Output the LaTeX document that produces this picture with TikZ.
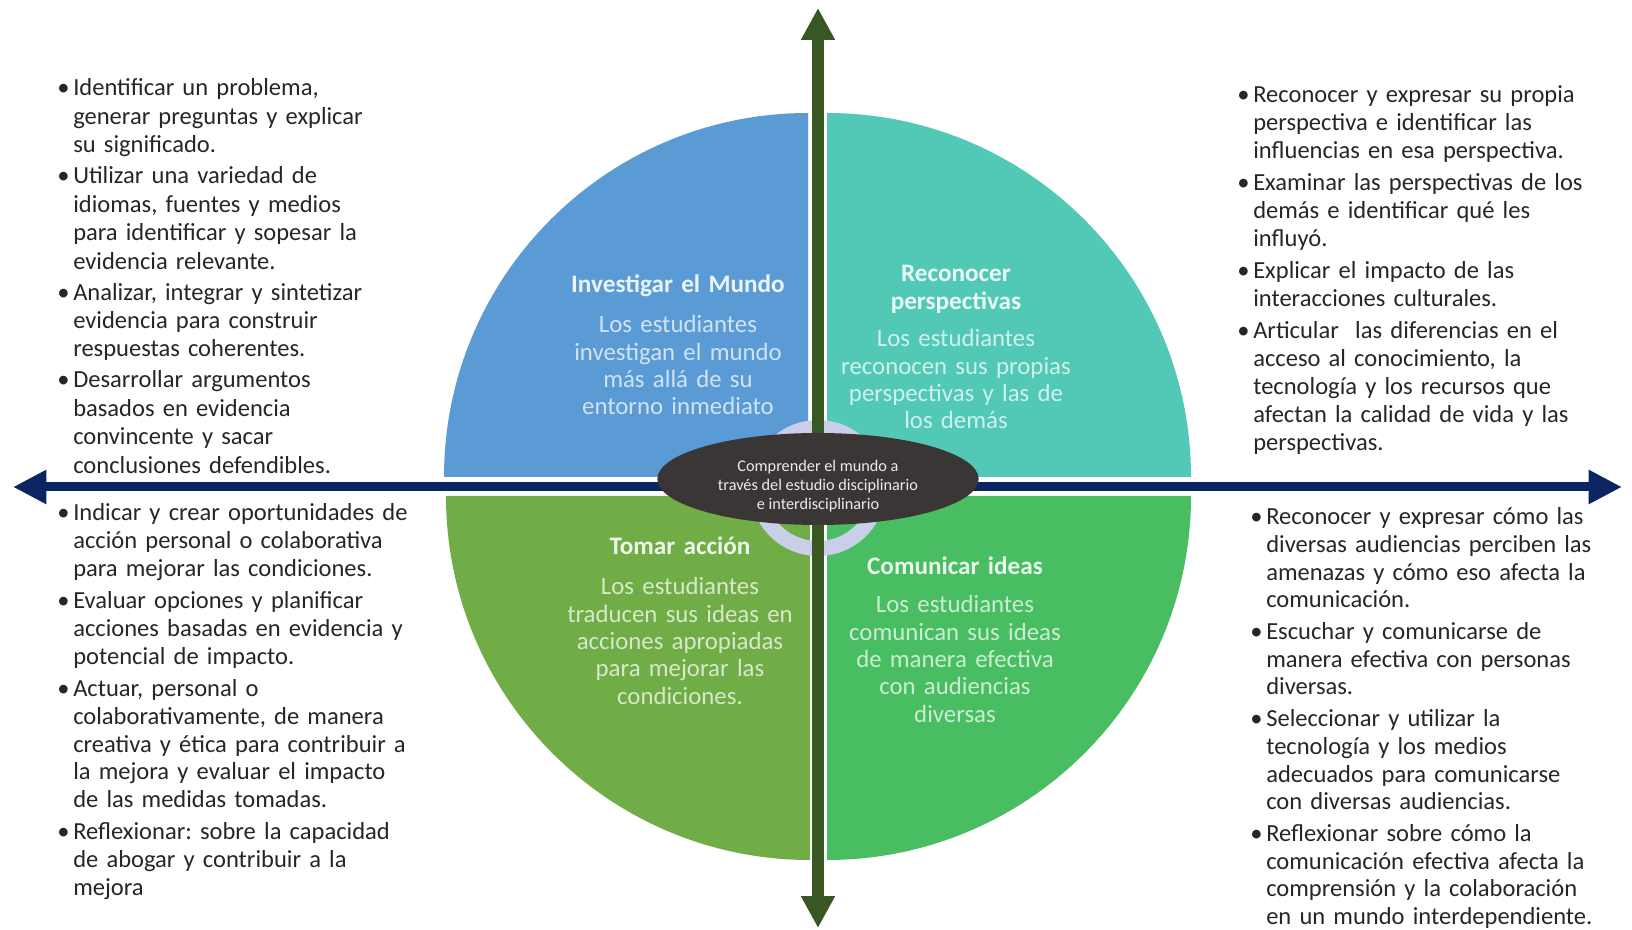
\documentclass[tikz,border=0pt]{standalone}
\usepackage{fontspec}
\setmainfont{Carlito}
\usetikzlibrary{arrows.meta,shapes.geometric}
\frenchspacing

\definecolor{qblue}{HTML}{5B9BD5}
\definecolor{qteal}{HTML}{52C9B6}
\definecolor{qgreen}{HTML}{70AD47}
\definecolor{qleaf}{HTML}{48BD62}
\definecolor{vaxis}{HTML}{385723}
\definecolor{haxis}{HTML}{0B2563}
\definecolor{hubfill}{HTML}{3B3636}
\definecolor{ringc}{HTML}{C9CFE8}

\newcommand{\bul}{\leavevmode\llap{\makebox[12pt][l]{\textbullet}}}

\begin{document}
\begin{tikzpicture}[x=0.75pt,y=0.75pt,
    blocktext/.style={anchor=base west, inner sep=0pt, text width=300pt, align=left,
      text=black!85, font=\fontsize{18.4}{#1}\selectfont},
    qtitle/.style={anchor=base, inner sep=0pt, text width=250pt, align=center,
      font=\fontsize{18.9}{21}\selectfont\bfseries},
    qbody/.style={anchor=base, inner sep=0pt, text width=200pt, align=center,
      font=\fontsize{18.6}{20.5}\selectfont},
    hub/.style={ellipse, fill=hubfill, inner sep=0pt, minimum width=241pt, minimum height=69pt},
    hubtext/.style={inner sep=0pt, align=center, text=white!92!black,
      font=\fontsize{12.2}{14.3}\selectfont},
    axisv/.style={draw=vaxis, line width=9pt,
      {Triangle[length=24pt,width=24pt]}-{Triangle[length=24pt,width=24pt]}},
    axish/.style={draw=haxis, line width=6.75pt,
      {Triangle[length=25pt,width=24pt]}-{Triangle[length=25pt,width=24pt]}}
  ]
\useasboundingbox (0,0) rectangle (1632,929);
\fill[white] (0,0) rectangle (1632,929);

% quadrants
\fill[qblue] (808,452) -- ++(-364,0) arc[start angle=180, end angle=90, radius=364] -- cycle;
\fill[qteal] (827,452) -- ++(0,364) arc[start angle=90, end angle=0, radius=364] -- cycle;
\fill[qgreen] (810,433) -- ++(-364,0) arc[start angle=180, end angle=270, radius=364] -- cycle;
\fill[qleaf] (827,433) -- ++(364,0) arc[start angle=0, end angle=-90, radius=364] -- cycle;

\fill[ringc, even odd rule] (818,441) circle[radius=68] circle[radius=53];

% axes
\coordinate (top) at (818,921);
\coordinate (bot) at (818,1);
\coordinate (lft) at (13,442);
\coordinate (rgt) at (1622,442);
\draw[axisv] (bot) -- (top);
\draw[axish] (lft) -- (rgt);

\node[hub] (hub) at (818,450) {};
\node[hubtext] (hubtxt) at (818,443) {Comprender el mundo a\\través del estudio disciplinario\\e interdisciplinario};

% quadrant labels
\node[qtitle, text=white!88!qblue] (invT) at (678,636) {Investigar el Mundo};
\node[qbody, text=white!72!qblue] (invB) at (678,596) {Los estudiantes\\investigan el mundo\\más allá de su\\entorno inmediato};

\node[qtitle, text=white!88!qteal] (recT) at (956,647) {Reconocer\\perspectivas};
\node[qbody, text=white!72!qteal] (recB) at (956,582) {Los estudiantes\\reconocen sus propias\\perspectivas y las de\\los demás};

\node[qtitle, text=white!88!qgreen] (tomT) at (680,374) {Tomar acción};
\node[qbody, text=white!72!qgreen] (tomB) at (680,334) {Los estudiantes\\traducen sus ideas en\\acciones apropiadas\\para mejorar las\\condiciones.};

\node[qtitle, text=white!88!qleaf] (comT) at (955,354) {Comunicar ideas};
\node[qbody, text=white!72!qleaf] (comB) at (955,316) {Los estudiantes\\comunican sus ideas\\de manera efectiva\\con audiencias\\diversas};

% bullet lists
\node[blocktext=21.3] (listTL) at (73,833) {\bul Identificar un problema,\\generar preguntas y explicar\\su significado.\\[2pt]
\bul Utilizar una variedad de\\idiomas, fuentes y medios\\para identificar y sopesar la\\evidencia relevante.\\[2pt]
\bul Analizar, integrar y sintetizar\\evidencia para construir\\respuestas coherentes.\\[2pt]
\bul Desarrollar argumentos\\basados en evidencia\\convincente y sacar\\conclusiones defendibles.};

\node[blocktext=20.85] (listBL) at (73,408) {\bul Indicar y crear oportunidades de\\acción personal o colaborativa\\para mejorar las condiciones.\\[3.3pt]
\bul Evaluar opciones y planificar\\acciones basadas en evidencia y\\potencial de impacto.\\[3.3pt]
\bul Actuar, personal o\\colaborativamente, de manera\\creativa y ética para contribuir a\\la mejora y evaluar el impacto\\de las medidas tomadas.\\[3.3pt]
\bul Reflexionar: sobre la capacidad\\de abogar y contribuir a la\\mejora};

\node[blocktext=21] (listTR) at (1253,826) {\bul Reconocer y expresar su propia\\perspectiva e identificar las\\influencias en esa perspectiva.\\[3pt]
\bul Examinar las perspectivas de los\\demás e identificar qué les\\influyó.\\[3pt]
\bul Explicar el impacto de las\\interacciones culturales.\\[3pt]
\bul Articular\ \ las diferencias en el\\acceso al conocimiento, la\\tecnología y los recursos que\\afectan la calidad de vida y las\\perspectivas.};

\node[blocktext=20.7] (listBR) at (1266,404) {\bul Reconocer y expresar cómo las\\diversas audiencias perciben las\\amenazas y cómo eso afecta la\\comunicación.\\[3.3pt]
\bul Escuchar y comunicarse de\\manera efectiva con personas\\diversas.\\[3.3pt]
\bul Seleccionar y utilizar la\\tecnología y los medios\\adecuados para comunicarse\\con diversas audiencias.\\[3.3pt]
\bul Reflexionar sobre cómo la\\comunicación efectiva afecta la\\comprensión y la colaboración\\en un mundo interdependiente.};
\end{tikzpicture}
\end{document}
